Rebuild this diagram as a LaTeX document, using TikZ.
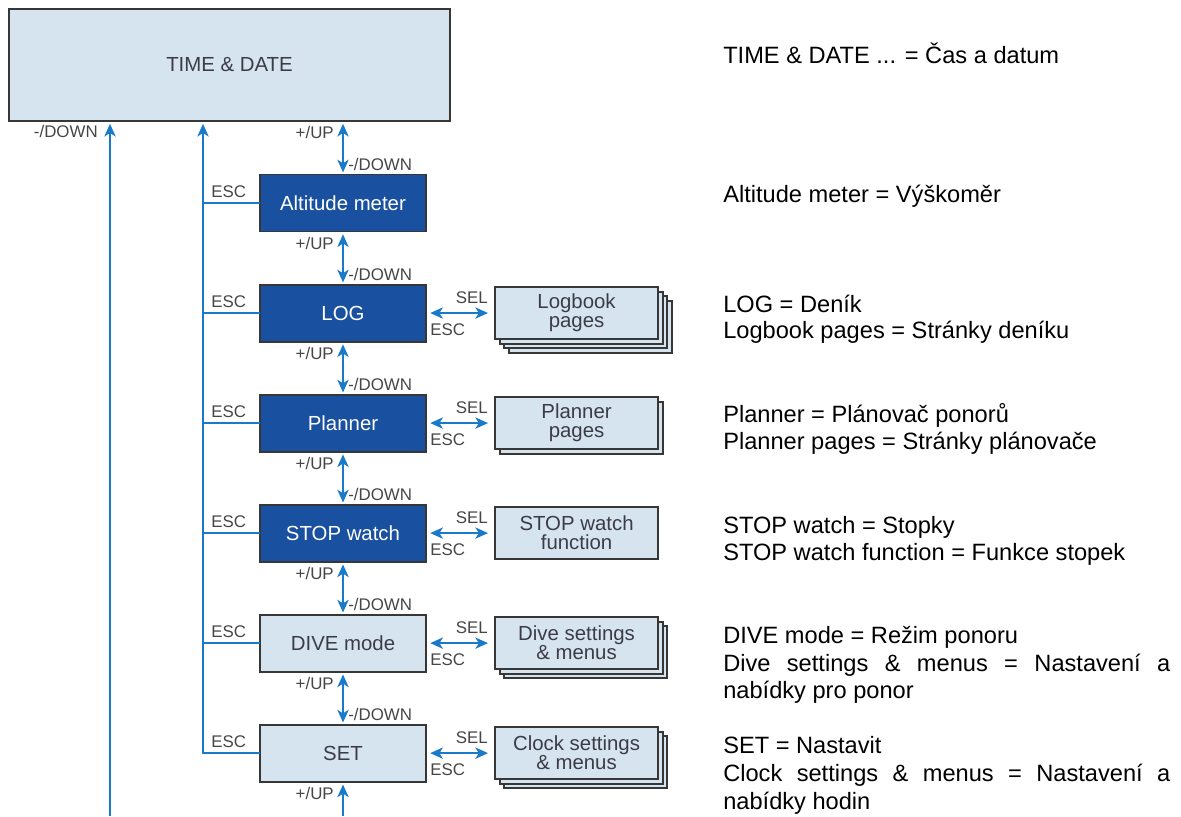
\documentclass[tikz,border=0pt]{standalone}
\usepackage{fontspec}
\setmainfont{Liberation Sans}
\usepackage{tikz}
\usetikzlibrary{arrows.meta,calc,positioning,shadows}
\definecolor{linkblue}{RGB}{24,122,200}
\definecolor{darkmode}{RGB}{25,80,160}
\definecolor{lightmode}{RGB}{214,228,240}
\definecolor{boxedge}{RGB}{55,55,55}
\definecolor{boxtext}{RGB}{60,60,70}
\definecolor{labelgray}{RGB}{70,70,70}
\tikzset{
  basebox/.style={draw=boxedge, line width=1.4pt, inner sep=0pt, outer sep=0pt,
    align=center, font=\fontsize{14.5}{13.5}\selectfont},
  darkbox/.style={basebox, fill=darkmode, text=white,
    minimum width=4.15cm, minimum height=1.425cm},
  lightbox/.style={basebox, fill=lightmode, text=boxtext,
    minimum width=4.15cm, minimum height=1.425cm},
  pagebox/.style={basebox, fill=lightmode, text=boxtext,
    minimum width=4.075cm, minimum height=1.3cm},
  pages/.style={copy shadow={shadow xshift=#1, shadow yshift=-#1}},
  flow/.style={draw=linkblue, line width=1.4pt},
  lbl/.style={font=\fontsize{12}{12}\selectfont, text=labelgray, inner sep=0pt},
  desc/.style={font=\fontsize{16.8}{19}\selectfont, anchor=base west, inner sep=0pt},
}

\begin{document}
\begin{tikzpicture}[x=0.025cm, y=-0.025cm,
  >={Stealth[length=9pt,width=8pt,inset=2.5pt]}]
\useasboundingbox (0,0) rectangle (1181,816);

%% Main screen
\node[lightbox, minimum width=11.025cm, minimum height=2.8cm] (td) at (229.5,65) {TIME \& DATE};

%% Menu column
\node[darkbox] (alt) at (343,203) {Altitude meter};
\node[darkbox, below=1.325cm of alt] (log) {LOG};
\node[darkbox, below=1.325cm of log] (plan) {Planner};
\node[darkbox, below=1.325cm of plan] (stop) {STOP watch};
\node[lightbox, below=1.325cm of stop] (dive) {DIVE mode};
\node[lightbox, below=1.325cm of dive] (set) {SET};

%% Sub pages (stacked)
\node[pagebox, pages=9.6pt, pages=6.4pt, pages=3.2pt, right=1.725cm of log] (logp) {Logbook\\pages};
\node[pagebox, pages=3.2pt, right=1.725cm of plan] (planp) {Planner\\pages};
\node[pagebox, right=1.725cm of stop] (stopp) {STOP watch\\function};
\node[pagebox, pages=6.4pt, pages=3.2pt, right=1.725cm of dive] (divep) {Dive settings\\\& menus};
\node[pagebox, pages=6.4pt, pages=3.2pt, right=1.725cm of set] (setp) {Clock settings\\\& menus};

%% ESC return line
\coordinate (escx) at (203,0);
\draw[flow,->,shorten >=2pt] (set.west) -| (escx |- td.south);
\foreach \m in {alt,log,plan,stop,dive}
  \draw[flow] (\m.west) -- (\m.west -| escx);
\foreach \m in {alt,log,plan,stop,dive,set}
  \node[lbl, anchor=base west] (esc-\m) at ($(\m.west -| escx)+(8,-6)$) {ESC};

%% Up / down between menus
\foreach \a/\b in {td/alt,alt/log,log/plan,plan/stop,stop/dive,dive/set}{
  \draw[flow,<->,shorten <=2pt,shorten >=1.5pt] (\b.north |- \a.south) -- (\b.north);
  \node[lbl, anchor=north east] (up-\b) at ($(\b.north |- \a.south)+(-9,5)$) {+/UP};
  \node[lbl, anchor=base west] (dn-\b) at ($(\b.north)+(5,-4)$) {-/DOWN};
}
\coordinate (upbot) at (343,816);
\draw[flow,->,shorten >=2pt] (upbot) -- (set.south);
\node[lbl, anchor=north east] (up-end) at ($(set.south)+(-9,5)$) {+/UP};

%% Down from the bottom back to time
\coordinate (dnbot) at (110,816);
\draw[flow,->,shorten >=2pt] (dnbot) -- (dnbot |- td.south);
\node[lbl, anchor=north east] (dn-td) at ($(dnbot |- td.south)+(-12,4)$) {-/DOWN};

%% SEL / ESC to sub pages
\foreach \m/\p in {log/logp,plan/planp,stop/stopp,dive/divep,set/setp}{
  \draw[flow,<->,shorten <=3pt,shorten >=5pt] (\m.east) -- (\m.east -| \p.west);
  \node[lbl, anchor=base east] (sel-\p) at ($(\m.east -| \p.west)+(-7,-10)$) {SEL};
  \node[lbl, anchor=north west] (back-\p) at ($(\m.east)+(4,10)$) {ESC};
}

%% Translations
\node[desc] (d-td) at (723,63) {TIME \& DATE ... = Čas a datum};
\node[desc] (d-alt) at (723,202) {Altitude meter = Výškoměr};
\node[desc] (d-log) at (723,312) {LOG = Deník};
\node[desc] (d-logp) at (723,338) {Logbook pages = Stránky deníku};
\node[desc] (d-plan) at (723,422) {Planner = Plánovač ponorů};
\node[desc] (d-planp) at (723,449) {Planner pages = Stránky plánovače};
\node[desc] (d-stop) at (723,533) {STOP watch = Stopky};
\node[desc] (d-stopp) at (723,560) {STOP watch function = Funkce stopek};
\node[desc] (d-dive) at (723,643) {DIVE mode = Režim ponoru};
\node[desc] (d-divep) at (723,671) {\makebox[11.175cm][s]{Dive settings \& menus = Nastavení a}};
\node[desc] (d-divep2) at (723,698) {nabídky pro ponor};
\node[desc] (d-set) at (723,753) {SET = Nastavit};
\node[desc] (d-setp) at (723,781) {\makebox[11.175cm][s]{Clock settings \& menus = Nastavení a}};
\node[desc] (d-setp2) at (723,809) {nabídky hodin};

\end{tikzpicture}
\end{document}
